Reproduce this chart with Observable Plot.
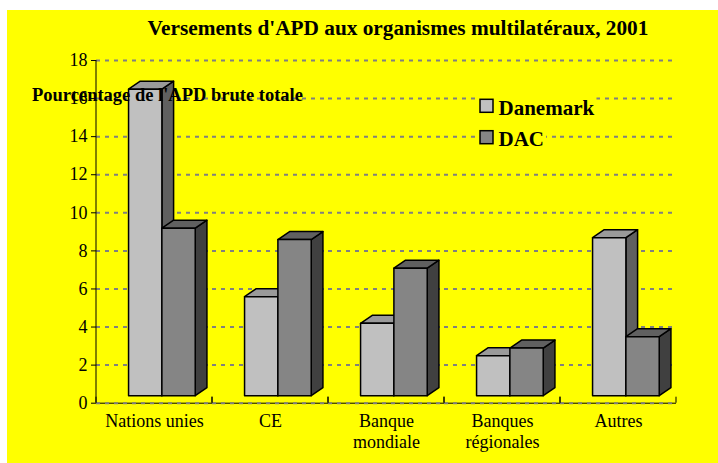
<!DOCTYPE html>
<html>
<head>
<meta charset="utf-8">
<script src="https://cdn.jsdelivr.net/npm/d3@7"></script>
<script src="https://cdn.jsdelivr.net/npm/@observablehq/plot@0.6"></script>
<style>
  html, body { margin: 0; padding: 0; background: #ffffff; }
  #wrap { position: relative; width: 718px; height: 463px; overflow: hidden; }
  #bg { position: absolute; left: 7px; top: 10px; right: 0; bottom: 0; background: #ffff00; }
  #chart { position: absolute; left: 0; top: 0; }
</style>
</head>
<body>
<div id="wrap"><div id="bg"></div><div id="chart"></div></div>
<script>
// ---- data ----
const categories = ["Nations unies", "CE", "Banque mondiale", "Banques régionales", "Autres"];
const categoryLabels = ["Nations unies", "CE", "Banque\nmondiale", "Banques\nrégionales", "Autres"];
const series = ["Danemark", "DAC"];
const danemark = [16.1, 5.2, 3.8, 2.1, 8.3];
const dac = [8.8, 8.2, 6.7, 2.5, 3.1];
const yTicks = [0, 2, 4, 6, 8, 10, 12, 14, 16, 18];
const titleText = "Versements d'APD aux organismes multilatéraux, 2001";
const yLabelText = "Pourcentage de l'APD brute totale";

// ---- styles ----
const frontColors = ["#c0c0c0", "#858585"];
const topColors = ["#9a9a9a", "#606060"];
const sideColors = ["#606060", "#404040"];
const serif = "'Liberation Serif', 'Times New Roman', Times, serif";

const rows = categories.flatMap((c, i) => [
  {category: c, series: series[0], value: danemark[i]},
  {category: c, series: series[1], value: dac[i]}
]);

const DX = 11.7, DY = 8, LIFT = 7;

function draw3D(index, scales, values) {
  const xs = scales.x;
  const bw = typeof xs.bandwidth === "function" ? xs.bandwidth() : scales.scales.x.bandwidth;
  const rng = typeof xs.range === "function" ? xs.range() : scales.scales.x.range;
  const y0 = scales.y(0);
  const g = d3.create("svg:g");
  for (const rx of [rng[0], rng[1]]) {
    g.append("line").attr("x1", rx).attr("x2", rx).attr("y1", y0).attr("y2", y0 - 6)
      .attr("stroke", "#000").attr("stroke-width", 1);
  }
  for (const i of index) {
    const s = series.indexOf(rows[i].series);
    const x0 = values.x[i], x1 = x0 + bw;
    const ya = values.y1[i], yb2 = values.y2[i];
    const yb = Math.max(ya, yb2) - LIFT, yt = Math.min(ya, yb2) - LIFT;
    const common = sel => sel.attr("stroke", "#000").attr("stroke-width", 1.5).attr("stroke-linejoin", "round");
    g.append("polygon")
      .attr("points", [[x1, yb], [x1 + DX, yb - DY], [x1 + DX, yt - DY], [x1, yt]].join(" "))
      .attr("fill", sideColors[s]).call(common);
    g.append("polygon")
      .attr("points", [[x0, yt], [x0 + DX, yt - DY], [x1 + DX, yt - DY], [x1, yt]].join(" "))
      .attr("fill", topColors[s]).call(common);
    g.append("rect").attr("x", x0).attr("y", yt).attr("width", bw).attr("height", yb - yt)
      .attr("fill", frontColors[s]).call(common);
  }
  return g.node();
}

const fxFormat = c => categoryLabels[categories.indexOf(c)];
const hasAxisMarks = typeof Plot.axisFx === "function";

const marks = [
  Plot.ruleY([0], {stroke: "#000", strokeWidth: 1}),
  Plot.ruleY(yTicks, {stroke: "#808080", strokeWidth: 2, strokeDasharray: "4,5"}),
  Plot.barY(rows, {fx: "category", x: "series", y: "value", fill: "series", render: draw3D})
];
if (hasAxisMarks) {
  marks.push(Plot.axisFx({anchor: "bottom", tickSize: 0, tickPadding: 9, lineHeight: 1.15, label: null, tickFormat: fxFormat, fontSize: 18}));
  marks.push(Plot.axisY({ticks: yTicks, tickSize: 5, tickPadding: 4, label: null, tickFormat: d => String(d), fontSize: 18}));
}

const chart = Plot.plot({
  width: 718,
  height: 463,
  marginTop: 60,
  marginBottom: 60.3,
  marginLeft: 96,
  marginRight: 42,
  style: {background: "transparent", fontFamily: serif, fontSize: "18px", color: "#000", overflow: "visible"},
  fx: {domain: categories, padding: 0, label: null, axis: hasAxisMarks ? null : "bottom", tickSize: 0, tickPadding: 10, tickFormat: fxFormat},
  x: {domain: series, paddingInner: 0, paddingOuter: 0.74, align: 0.66, round: false, axis: null},
  y: {domain: [0, 18], ticks: yTicks, tickSize: 5, tickPadding: 4, line: true, label: null, tickFormat: d => String(d), axis: hasAxisMarks ? null : "left"},
  color: {domain: series, range: frontColors},
  marks
});

document.getElementById("chart").appendChild(chart);
const svgNode = chart.tagName.toLowerCase() === "svg" ? chart : chart.querySelector("svg");
const svg = d3.select(svgNode);

// Y axis line (drawn once, at the frame's left edge)
svg.append("line").attr("x1", 96).attr("x2", 96)
  .attr("y1", 60).attr("y2", 463 - 60.3).attr("stroke", "#000").attr("stroke-width", 1);

// Title
svg.append("text").attr("x", 398).attr("y", 34.5).attr("text-anchor", "middle")
  .style("font-family", serif).style("font-size", "21.3px").style("font-weight", "bold")
  .attr("fill", "#000").text(titleText);

// Y label (overlapping the plot, as in the original)
svg.append("text").attr("x", 32).attr("y", 100.5).attr("text-anchor", "start")
  .style("font-family", serif).style("font-size", "18.5px").style("font-weight", "bold")
  .attr("fill", "#000").text(yLabelText);

// Legend
const legendRows = [{y: 99.3}, {y: 130.7}];
series.forEach((name, i) => {
  const lg = svg.append("g");
  const bgRect = lg.append("rect").attr("fill", "#ffff00");
  lg.append("rect").attr("x", 480).attr("y", legendRows[i].y).attr("width", 13).attr("height", 13)
    .attr("fill", frontColors[i]).attr("stroke", "#000").attr("stroke-width", 1.5);
  const t = lg.append("text").attr("x", 498.5).attr("y", legendRows[i].y + 15.5).attr("text-anchor", "start")
    .style("font-family", serif).style("font-size", "21px").style("font-weight", "bold")
    .attr("fill", "#000").text(name);
  const bb = t.node().getBBox();
  bgRect.attr("x", 477).attr("y", legendRows[i].y - 3).attr("width", bb.x + bb.width - 477 + 2).attr("height", 20);
});
</script>
</body>
</html>
